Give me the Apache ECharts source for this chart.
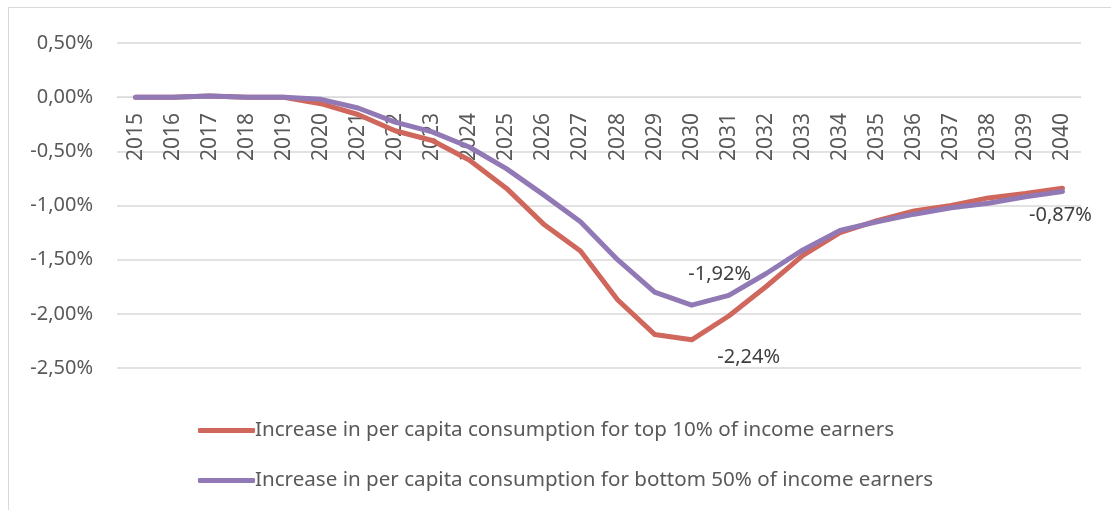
<!DOCTYPE html>
<html>
<head>
<meta charset="utf-8">
<script src="https://cdn.jsdelivr.net/npm/echarts@6/dist/echarts.min.js"></script>
<style>
  html, body { margin: 0; padding: 0; background: #fff; }
  #chart { width: 1111px; height: 510px; }
</style>
</head>
<body>
<div id="chart"></div>
<script>
const years = [
  '2015', '2016', '2017', '2018', '2019', '2020', '2021', '2022', '2023', '2024', '2025', '2026', '2027',
  '2028', '2029', '2030', '2031', '2032', '2033', '2034', '2035', '2036', '2037', '2038', '2039', '2040',
]
const top10 = [
  0, 0, 0.01, 0, 0, -0.06, -0.16, -0.31, -0.40, -0.58, -0.84, -1.17, -1.42,
  -1.87, -2.19, -2.24, -2.02, -1.75, -1.46, -1.25, -1.14, -1.05, -1.00, -0.93, -0.89, -0.84,
]
const bottom50 = [
  0, 0, 0.01, 0, 0, -0.02, -0.10, -0.23, -0.32, -0.46, -0.66, -0.90, -1.15,
  -1.50, -1.80, -1.92, -1.83, -1.63, -1.41, -1.23, -1.15, -1.08, -1.02, -0.98, -0.92, -0.87,
]
const yTicks = [-2.5, -2, -1.5, -1, -0.5, 0, 0.5]

const seriesNames = [
  'Increase in per capita consumption for top 10% of income earners',
  'Increase in per capita consumption for bottom 50% of income earners',
]
const colors = ['#d0675d', '#9179b5']
const fontFamily = '"Noto Sans", "Open Sans", sans-serif'

function pct(v) {
  return v.toFixed(2).replace('.', ',') + '%'
}

// data labels shown only on a few points
function withLabels(values, labelled) {
  return values.map((v, i) => {
    if (!labelled[i]) return v
    return {
      value: v,
      label: {
        show: true,
        formatter: (p) => pct(p.value),
        fontSize: 20,
        fontFamily,
        color: '#404040',
        ...labelled[i],
      },
    }
  })
}

const chart = echarts.init(document.getElementById('chart'))

chart.setOption({
  animation: false,
  color: colors,
  textStyle: { fontFamily },
  graphic: [
    { type: 'line', shape: { x1: 8.5, y1: 7.5, x2: 1111, y2: 7.5 }, style: { stroke: '#d9d9d9', lineWidth: 1 } },
    { type: 'line', shape: { x1: 8.5, y1: 7.5, x2: 8.5, y2: 510 }, style: { stroke: '#d9d9d9', lineWidth: 1 } },
  ],
  grid: {
    left: 117,
    right: 30,
    top: 43,
    bottom: 142,
  },
  legend: {
    orient: 'vertical',
    left: 193,
    top: 415,
    itemGap: 29,
    itemWidth: 57,
    itemHeight: 5,
    icon: 'roundRect',
    textStyle: { fontSize: 20.6, color: '#595959', fontFamily, padding: [0, 0, 0, -5] },
    data: seriesNames,
  },
  xAxis: {
    type: 'category',
    data: years,
    boundaryGap: true,
    // axis sits on the zero line
    offset: -271,
    axisLine: { show: true, onZero: false, lineStyle: { color: '#d9d9d9' } },
    axisTick: { show: false },
    axisLabel: {
      rotate: 90,
      margin: 16,
      interval: 0,
      fontSize: 21,
      color: '#595959',
      fontFamily,
    },
  },
  yAxis: {
    type: 'value',
    min: yTicks[0],
    max: yTicks[yTicks.length - 1],
    interval: 0.5,
    axisLine: { show: false },
    axisTick: { show: false },
    axisLabel: {
      margin: 24,
      fontSize: 20,
      color: '#595959',
      fontFamily,
      formatter: (v) => pct(v),
    },
    splitLine: { lineStyle: { color: '#d9d9d9', width: 1.5 } },
  },
  series: [
    {
      name: seriesNames[0],
      type: 'line',
      data: withLabels(top10, { 15: { position: 'bottom', offset: [57, 2] } }),
      symbol: 'circle',
      symbolSize: 0,
      showSymbol: true,
      lineStyle: { width: 5, color: colors[0], cap: 'round', join: 'round' },
      itemStyle: { color: colors[0] },
      z: 2,
    },
    {
      name: seriesNames[1],
      type: 'line',
      data: withLabels(bottom50, {
        15: { position: 'top', offset: [28, -16] },
        25: { position: 'bottom', offset: [-2, 9] },
      }),
      symbol: 'circle',
      symbolSize: 0,
      showSymbol: true,
      lineStyle: { width: 5, color: colors[1], cap: 'round', join: 'round' },
      itemStyle: { color: colors[1] },
      z: 3,
    },
  ],
})
</script>
</body>
</html>
